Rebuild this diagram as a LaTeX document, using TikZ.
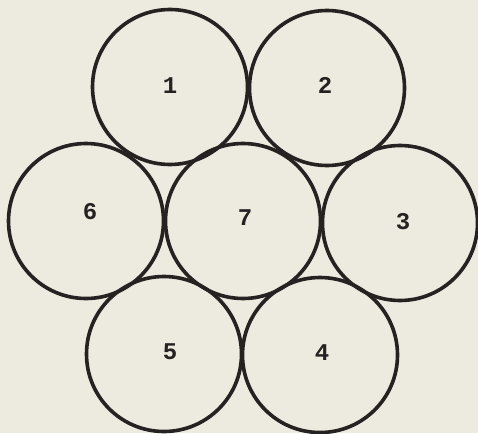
\documentclass[tikz,border=0pt]{standalone}
\usepackage{fontspec}
\setmainfont{Liberation Mono}
\definecolor{paper}{HTML}{EDEAE0}
\definecolor{ink}{HTML}{262222}
\begin{document}
\begin{tikzpicture}[x=1pt,y=-1pt,
  wire/.style={circle,draw=ink,line width=3.6pt,minimum size=155pt,inner sep=0pt},
  num/.style={text=ink,font=\fontsize{24}{24}\selectfont\bfseries}]
\fill[paper] (0,0) rectangle (478,433);
\useasboundingbox (0,0) rectangle (478,433);
\node[wire] (c1) at (170,87) {};
\node[wire] (c2) at (327,88) {};
\node[wire] (c6) at (86,221) {};
\node[wire] (c7) at (243,221) {};
\node[wire] (c3) at (400,223) {};
\node[wire] (c5) at (164,354) {};
\node[wire] (c4) at (320,355) {};
\node[num] (l1) at (170,86) {1};
\node[num] (l2) at (325,85) {2};
\node[num] (l6) at (90,212) {6};
\node[num] (l7) at (245,218) {7};
\node[num] (l3) at (403,222) {3};
\node[num] (l5) at (170,352) {5};
\node[num] (l4) at (322,353) {4};
\end{tikzpicture}
\end{document}
